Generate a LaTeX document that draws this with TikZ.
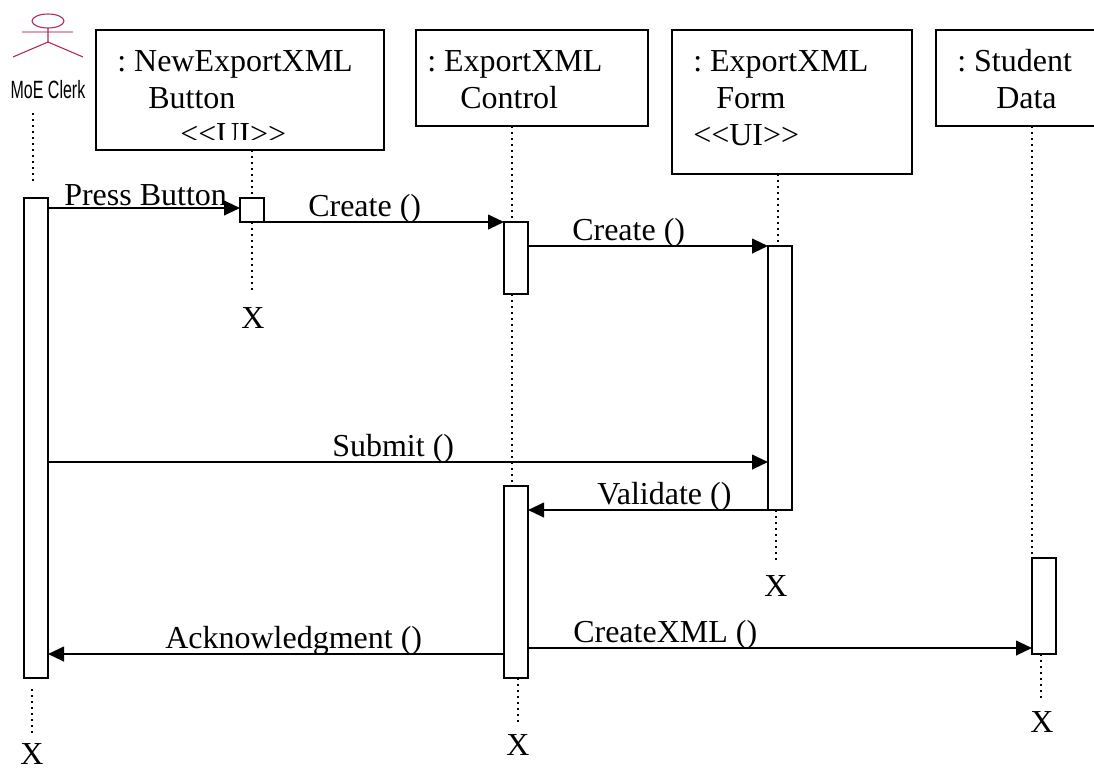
\documentclass[tikz,border=0pt]{standalone}
\usepackage{fontspec}
\setmainfont{Liberation Serif}
\newfontfamily\clerkfont{Liberation Sans}
\usetikzlibrary{arrows.meta}
\definecolor{actorred}{RGB}{176,40,90}
\definecolor{actorpink}{RGB}{222,160,185}
\tikzset{
  objbox/.style={draw,line width=1.5pt,anchor=north west,inner sep=0pt,outer sep=0pt},
  bar/.style={draw,fill=white,line width=1.5pt,anchor=north west,inner sep=0pt,outer sep=0pt,minimum width=18pt},
  msg/.style={line width=1.5pt,-{Triangle[length=12pt,width=11pt]}},
  lifeline/.style={line width=1.5pt,dash pattern=on 1.5pt off 3pt},
  txt/.style={anchor=base west,inner sep=0pt,font=\fontsize{24}{28}\selectfont},
}
\begin{document}
\frenchspacing
\begin{tikzpicture}[x=0.75pt,y=-0.75pt]
        \useasboundingbox (0,0) rectangle (1094,768);
        \clip (0,0) rectangle (1094,768);
        % actor
        \draw[actorred,line width=0.8pt] (48,21) ellipse (16 and 7);
        \draw[actorpink,line width=0.8pt] (22,32) -- (73,32);
        \draw[actorred,line width=0.8pt] (48,28) -- (48,42) (13,57) -- (48,42) -- (83,57);
        \node[inner sep=0pt,xscale=0.64,transform shape,font=\clerkfont\fontsize{18.75}{22}\selectfont] (clerk) at (48,90) {MoE Clerk};
        % object boxes
        \node[objbox,minimum width=216pt,minimum height=90pt] (buttonbox) at (96,30) {};
        \node[objbox,minimum width=174pt,minimum height=72pt] (controlbox) at (416,30) {};
        \node[objbox,minimum width=180pt,minimum height=108pt] (formbox) at (672,30) {};
        \node[objbox,minimum width=180pt,minimum height=72pt] (studentbox) at (936,30) {};
        % activation bars
        \node[bar,minimum height=360pt] (clerkbar) at (24,198) {};
        \node[bar,minimum height=18pt] (buttonbar) at (240,198) {};
        \node[bar,minimum height=54pt] (controlbar) at (504,222) {};
        \node[bar,minimum height=198pt] (formbar) at (768,246) {};
        \node[bar,minimum height=144pt] (controlbarb) at (504,486) {};
        \node[bar,minimum height=72pt] (studentbar) at (1032,558) {};
        % texts
        \foreach \n/\x/\y/\t in {%
          a/117/71/{: NewExportXML}, b/148/108/Button,
          c/427/71/{: ExportXML}, d/460/108/Control,
          e/693/71/{: ExportXML}, f/716/108/Form, g/693/145/{<{}<UI>{}>},
          h/957/71/{: Student}, i/996/108/Data,
          j/64/205/{Press Button}, k/308/216/{Create ()}, l/572/240/{Create ()},
          m/332/456/{Submit ()}, n/597/504/{Validate ()},
          o/165/648/{Acknowledgment ()}, p/573/642/{CreateXML ()}} {
            \node[txt] (txt\n) at (\x,\y) {\t};
        }
        \begin{scope}
          \clip (100,110) rectangle (380,139);
          \node[txt] (buttonui) at (180,144) {<{}<UI>{}>};
        \end{scope}
        % ends of the lifelines
        \foreach \n/\x/\y in {clerk/20/764, buttonend/241/328, controlend/506/755, formend/764/596, studentend/1030/732} {
            \node[txt] (x\n) at (\x,\y) {X};
        }
        \coordinate (clerktop) at (33,113);
        \coordinate (clerkstop) at (33,185);
        \coordinate (clerkdown) at (32,689);
        \coordinate (clerklow) at (32,734);
        \draw[lifeline] (clerktop) -- (clerkstop);
        \draw[lifeline] (clerkdown) -- (clerklow);
        \draw[lifeline] (buttonbox.south -| buttonbar.north) -- (buttonbar.north);
        \draw[lifeline] (buttonbar.south) -- ++(0,70);
        \coordinate (controlx) at (512,0);
        \draw[lifeline] (controlbox.south -| controlx) -- (controlbar.north -| controlx);
        \draw[lifeline] (controlbar.south -| controlx) -- (controlbarb.north -| controlx);
        \draw[lifeline] (controlbarb.south) ++(2,0) -- ++(0,44);
        \coordinate (formx) at (778,0);
        \draw[lifeline] (formbox.south -| formx) -- (formbar.north -| formx);
        \draw[lifeline] (formbar.south) ++(-4,0) -- ++(0,52);
        \draw[lifeline] (studentbox.south -| studentbar.west) -- (studentbar.north west);
        \draw[lifeline] (studentbar.south) ++(-3,0) -- ++(0,44);
        % messages
        \coordinate (press) at ([yshift=-7.5pt]clerkbar.north east);
        \draw[msg] (press) -- (press -| buttonbar.west);
        \draw[msg] (buttonbar.south east) -- (controlbar.north west);
        \draw[msg] ([yshift=-18pt]controlbar.north east) -- (formbar.north west);
        \coordinate (submit) at ([yshift=-198pt]clerkbar.north east);
        \draw[msg] (submit) -- (submit -| formbar.west);
        \draw[msg] (formbar.south west) -- (formbar.south west -| controlbarb.east);
        \coordinate (ack) at ([yshift=-126pt]controlbarb.north west);
        \draw[msg] (ack) -- (ack -| clerkbar.east);
        \coordinate (createxml) at ([yshift=-121.5pt]controlbarb.north east);
        \draw[msg] (createxml) -- (createxml -| studentbar.west);
\end{tikzpicture}
\end{document}
